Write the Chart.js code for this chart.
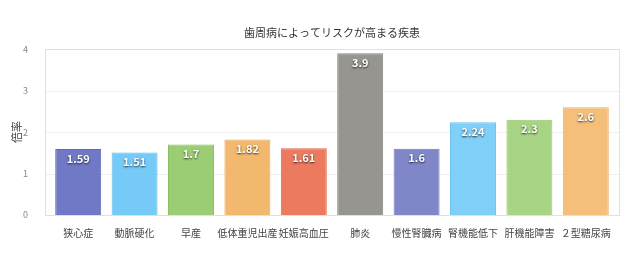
<!DOCTYPE html>
<html>
<head>
<meta charset="utf-8">
<script src="https://cdn.jsdelivr.net/npm/chart.js@4"></script>
<style>
  html, body { margin: 0; padding: 0; background: #fff; }
  #wrap { width: 640px; height: 254px; }
</style>
</head>
<body>
<div id="wrap"><canvas id="c"></canvas></div>
<script>
const categories = ['狭心症', '動脈硬化', '早産', '低体重児出産', '妊娠高血圧', '肺炎', '慢性腎臓病', '腎機能低下', '肝機能障害', '２型糖尿病'];
const ratios = [1.59, 1.51, 1.7, 1.82, 1.61, 3.9, 1.6, 2.24, 2.3, 2.6];
const yTicks = [0, 1, 2, 3, 4];
const fills = ['#6f79c6', '#75caf8', '#9bcd74', '#f2b86d', '#ec7a5f', '#979590', '#7f87c9', '#80cff8', '#a8d485', '#f4bf7a'];
const borders = ['#5f69b8', '#5fbcef', '#88c060', '#e9a85a', '#e0684c', '#878580', '#6e77bd', '#6cc2f0', '#95c872', '#eeb066'];

const FONT = '"Noto Sans CJK JP", "Noto Sans", sans-serif';
const FRAME_OUT = 5; // frame sits a little outside the bar area

// white value labels with a dark shadow, inside the top of each bar
const valueLabels = {
  id: 'valueLabels',
  afterDatasetsDraw(chart) {
    const ctx = chart.ctx;
    const meta = chart.getDatasetMeta(0);
    ctx.save();
    ctx.font = 'bold 11px ' + FONT;
    ctx.textAlign = 'center';
    ctx.textBaseline = 'top';
    ctx.fillStyle = '#fff';
    ctx.shadowColor = 'rgba(0,0,0,0.75)';
    ctx.shadowBlur = 2;
    ctx.shadowOffsetX = 0;
    ctx.shadowOffsetY = 1;
    meta.data.forEach((bar, i) => {
      ctx.fillText(String(ratios[i]), bar.x, bar.y + 4);
    });
    ctx.restore();
  }
};

// frame + horizontal grid lines across the full frame width
const frame = {
  id: 'frame',
  beforeDatasetsDraw(chart) {
    const a = chart.chartArea, ctx = chart.ctx, y = chart.scales.y;
    const l = Math.round(a.left) - FRAME_OUT, r = Math.round(a.right) + FRAME_OUT;
    ctx.save();
    ctx.lineWidth = 1;
    ctx.strokeStyle = '#eeeeee';
    yTicks.forEach(v => {
      const py = Math.round(y.getPixelForValue(v)) + 0.5;
      ctx.beginPath(); ctx.moveTo(l, py); ctx.lineTo(r, py); ctx.stroke();
    });
    ctx.strokeStyle = '#e0e0e0';
    ctx.strokeRect(l + 0.5, Math.round(a.top) + 0.5, r - l, Math.round(a.bottom - a.top));
    ctx.restore();
  }
};

new Chart(document.getElementById('c'), {
  type: 'bar',
  data: {
    labels: categories,
    datasets: [{
      data: ratios,
      backgroundColor: fills,
      borderColor: borders,
      borderWidth: 1,
      barPercentage: 0.815,
      categoryPercentage: 1.0
    }]
  },
  options: {
    responsive: true,
    maintainAspectRatio: false,
    animation: false,
    layout: { padding: { top: 26, right: 26, left: 10, bottom: 11 } },
    plugins: {
      legend: { display: false },
      tooltip: { enabled: false },
      title: {
        display: true,
        fullSize: false,
        text: '歯周病によってリスクが高まる疾患',
        color: '#333',
        font: { family: FONT, size: 11, weight: 'normal' },
        padding: { top: 0, bottom: 10 }
      }
    },
    scales: {
      x: {
        grid: { display: false },
        border: { display: false },
        ticks: { color: '#444', font: { family: FONT, size: 10 }, maxRotation: 0, autoSkip: false, padding: 4 }
      },
      y: {
        min: 0, max: 4,
        afterBuildTicks: (axis) => { axis.ticks = yTicks.map(v => ({ value: v })); },
        afterFit: (axis) => { axis.width = 40; },
        grid: { display: false },
        border: { display: false },
        ticks: { color: '#888', font: { family: FONT, size: 9 }, padding: 14 },
        title: { display: true, text: '倍率', color: '#444', font: { family: FONT, size: 11 }, padding: { top: 0, bottom: 2 } }
      }
    }
  },
  plugins: [frame, valueLabels]
});
</script>
</body>
</html>
